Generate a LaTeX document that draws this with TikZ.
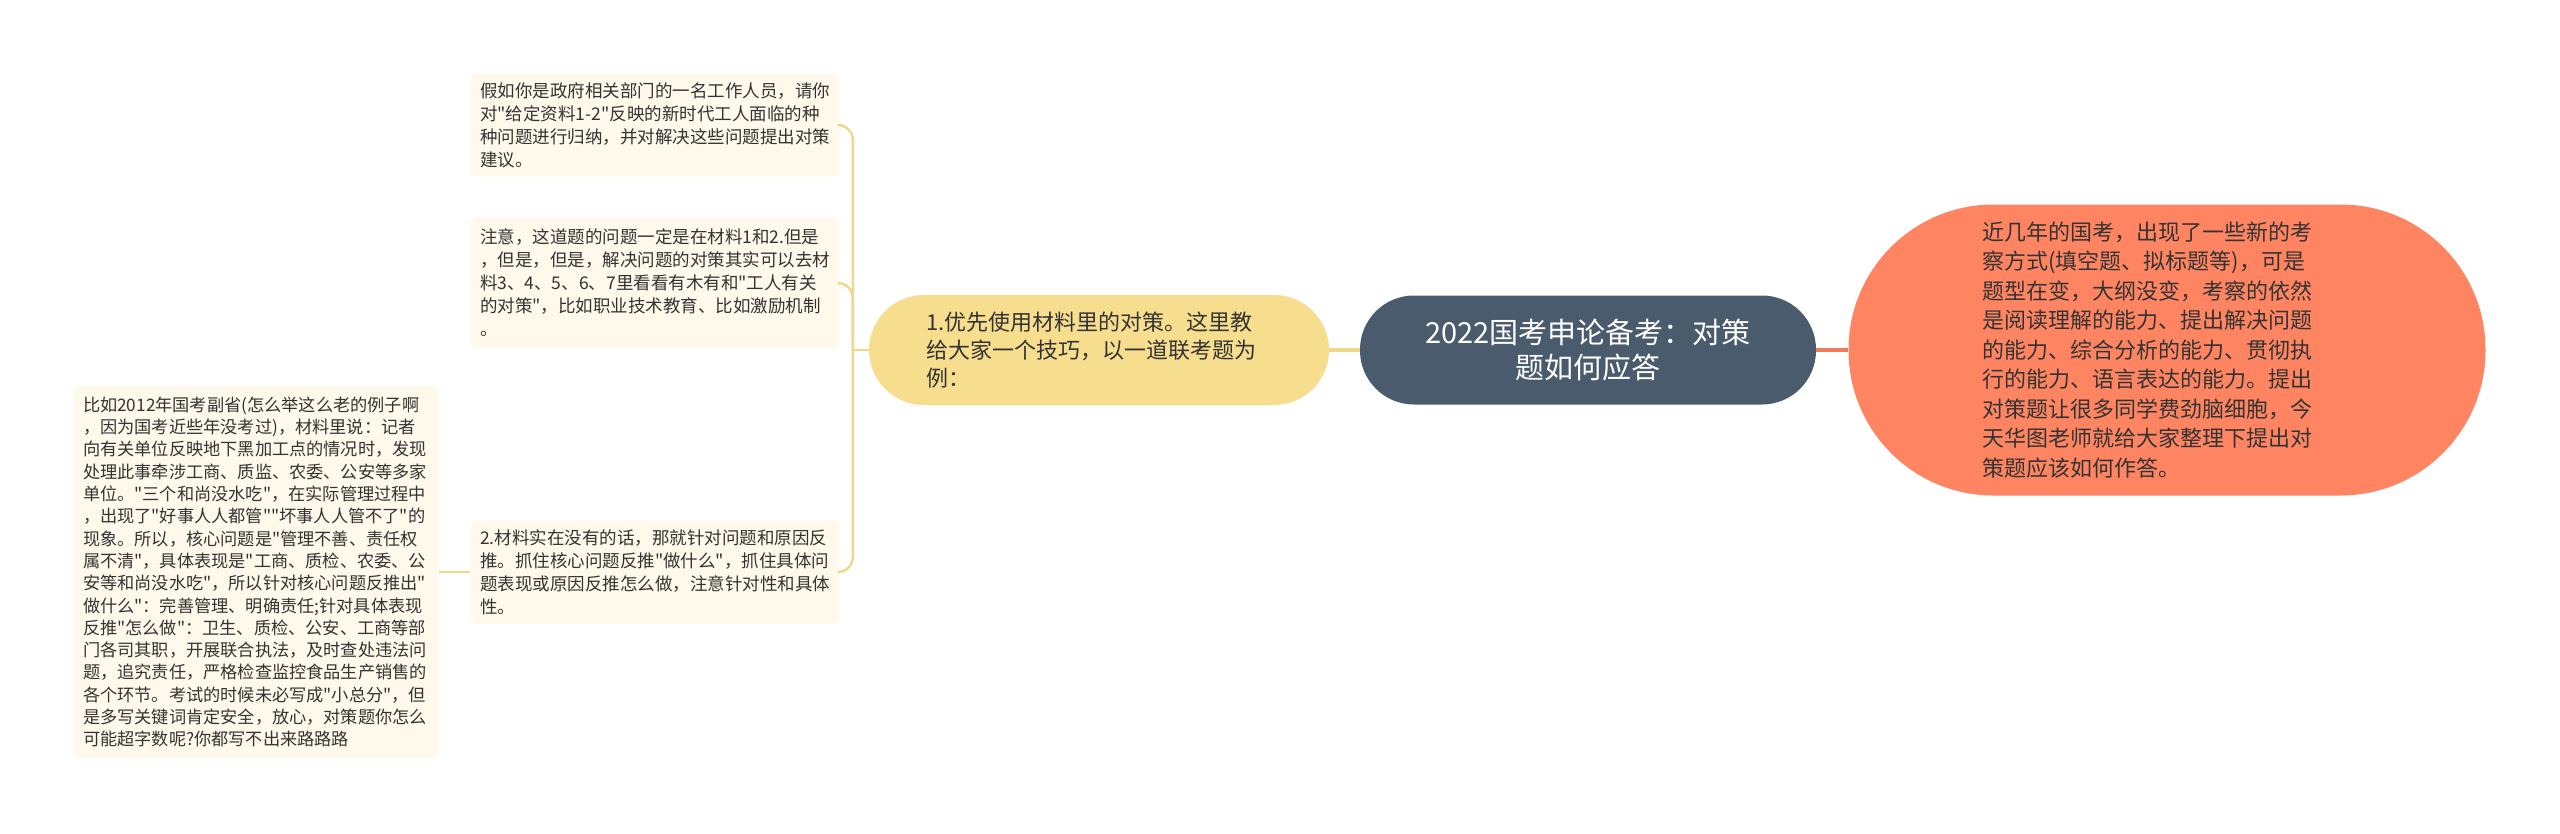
\documentclass[tikz,border=0pt]{standalone}
\usepackage{fontspec}
\newfontfamily\cjk{Noto Sans CJK SC}
\usepackage{tikz}
\usetikzlibrary{positioning}
\definecolor{rootcolor}{RGB}{74, 91, 109}
\definecolor{introcolor}{RGB}{255, 133, 98}
\definecolor{introline}{RGB}{240, 122, 92}
\definecolor{tipcolor}{RGB}{247, 221, 142}
\definecolor{tipline}{RGB}{240, 215, 140}
\definecolor{leafcolor}{RGB}{254, 249, 234}
\definecolor{inkcolor}{RGB}{51, 51, 51}

\begin{document}
\begin{tikzpicture}[x=1pt, y=-1pt,
    root/.style={fill=rootcolor, text=white, rounded corners=54pt, minimum width=456pt, minimum height=109pt, align=center, font={\cjk\fontsize{29}{35}\selectfont}},
    intro/.style={fill=introcolor, text=inkcolor, rounded corners=145pt, minimum width=637pt, minimum height=291pt, text width=369pt, align=left, font={\cjk\fontsize{22}{29.5}\selectfont}},
    tip/.style={fill=tipcolor, text=inkcolor, rounded corners=55pt, minimum width=460pt, minimum height=110pt, text width=345pt, align=left, font={\cjk\fontsize{22}{28}\selectfont}},
    leaf/.style={fill=leafcolor, text=inkcolor, rounded corners=6pt, text width=350pt, inner xsep=9.5pt, align=left, font={\cjk\fontsize{17.5}{23}\selectfont}},
    mainlink/.style={draw=tipline, line width=3.5pt},
    leaflink/.style={draw=tipline, line width=2.5pt}
]
    \useasboundingbox (0,0) rectangle (2560,833);

    % Root and first level
    \node[root] (root) at (1588, 350) {2022国考申论备考：对策\\题如何应答};
    \node[intro] (intro) at (2167, 350) {近几年的国考，出现了一些新的考\\察方式(填空题、拟标题等)，可是\\题型在变，大纲没变，考察的依然\\是阅读理解的能力、提出解决问题\\的能力、综合分析的能力、贯彻执\\行的能力、语言表达的能力。提出\\对策题让很多同学费劲脑细胞，今\\天华图老师就给大家整理下提出对\\策题应该如何作答。};
    \node[tip] (tip) at (1099, 350) {1.优先使用材料里的对策。这里教\\给大家一个技巧，以一道联考题为\\例：};

    % Leaves
    \node[leaf, minimum height=103pt] (task) at (655, 125) {假如你是政府相关部门的一名工作人员，请你\\对"给定资料1-2"反映的新时代工人面临的种\\种问题进行归纳，并对解决这些问题提出对策\\建议。};
    \node[leaf, minimum height=130pt] (note) at (655, 283) {注意，这道题的问题一定是在材料1和2.但是\\，但是，但是，解决问题的对策其实可以去材\\料3、4、5、6、7里看看有木有和"工人有关\\的对策"，比如职业技术教育、比如激励机制\\。};
    \node[leaf, minimum height=103pt] (reverse) at (655, 572) {2.材料实在没有的话，那就针对问题和原因反\\推。抓住核心问题反推"做什么"，抓住具体问\\题表现或原因反推怎么做，注意针对性和具体\\性。};
    \node[leaf, text width=346pt, minimum height=372pt, font={\cjk\fontsize{17.2}{22.3}\selectfont}] (example) at (256, 572) {比如2012年国考副省(怎么举这么老的例子啊\\，因为国考近些年没考过)，材料里说：记者\\向有关单位反映地下黑加工点的情况时，发现\\处理此事牵涉工商、质监、农委、公安等多家\\单位。"三个和尚没水吃"，在实际管理过程中\\，出现了"好事人人都管""坏事人人管不了"的\\现象。所以，核心问题是"管理不善、责任权\\属不清"，具体表现是"工商、质检、农委、公\\安等和尚没水吃"，所以针对核心问题反推出"\\做什么"：完善管理、明确责任;针对具体表现\\反推"怎么做"：卫生、质检、公安、工商等部\\门各司其职，开展联合执法，及时查处违法问\\题，追究责任，严格检查监控食品生产销售的\\各个环节。考试的时候未必写成"小总分"，但\\是多写关键词肯定安全，放心，对策题你怎么\\可能超字数呢?你都写不出来路路路};

    % Connections
    \draw[mainlink, draw=introline] (root) -- (intro);
    \draw[mainlink] (root) -- (tip);
    \draw[leaflink] (tip.west) -- ++(-16,0) coordinate (trunk);
    \draw[leaflink, rounded corners=15pt] (trunk) |- (task.east);
    \draw[leaflink, rounded corners=15pt] (trunk) |- (note.east);
    \draw[leaflink, rounded corners=15pt] (trunk) |- (reverse.east);
    \draw[leaflink] (reverse) -- (example);

\end{tikzpicture}
\end{document}
